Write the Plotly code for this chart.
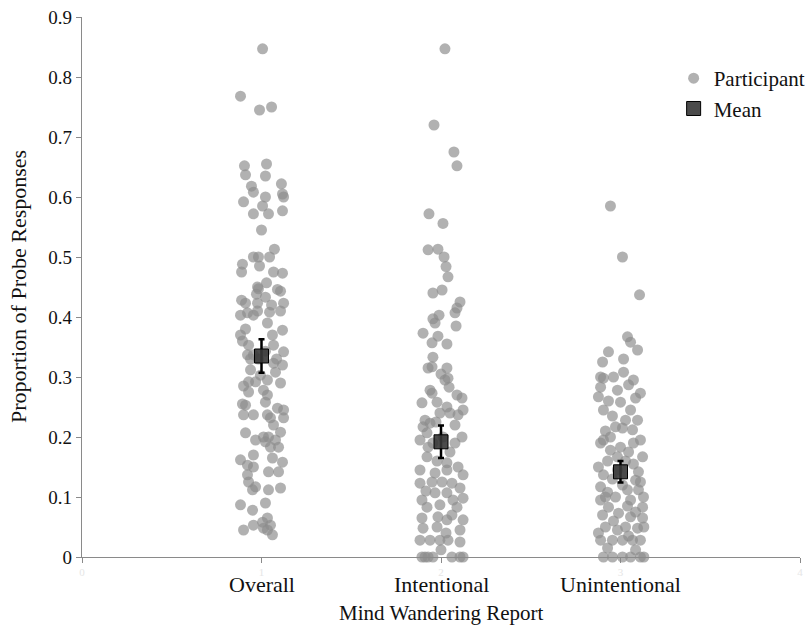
import plotly.graph_objects as go

categories = ["Overall", "Intentional", "Unintentional"]
cat_pos = [1, 2, 3]

# Participant proportions (y) and horizontal jitter offsets (x units)
overall_y = [0.847, 0.768, 0.745, 0.75, 0.652, 0.637, 0.655, 0.635, 0.618, 0.608, 0.622, 0.605, 0.6, 0.6,
             0.592, 0.585, 0.572, 0.572, 0.577, 0.545, 0.513, 0.5, 0.5, 0.5, 0.485, 0.488, 0.475, 0.475,
             0.473, 0.457, 0.45, 0.447, 0.446, 0.443, 0.438, 0.433, 0.428, 0.423, 0.423, 0.42, 0.423,
             0.407, 0.41, 0.408, 0.41, 0.403, 0.403, 0.39, 0.38, 0.378, 0.37, 0.37, 0.353, 0.36, 0.353,
             0.337, 0.337, 0.342, 0.32, 0.323, 0.312, 0.303, 0.308, 0.295, 0.292, 0.292, 0.29, 0.285,
             0.278, 0.275, 0.27, 0.253, 0.255, 0.258, 0.248, 0.245, 0.237, 0.237, 0.237, 0.232, 0.232,
             0.22, 0.208, 0.207, 0.195, 0.2, 0.2, 0.192, 0.183, 0.183, 0.195, 0.17, 0.165, 0.162, 0.153,
             0.15, 0.158, 0.142, 0.142, 0.137, 0.125, 0.112, 0.117, 0.112, 0.115, 0.087, 0.09, 0.078,
             0.065, 0.058, 0.053, 0.053, 0.045, 0.048, 0.045, 0.037, 0.343, 0.33, 0.33, 0.33]
overall_dx = [0.006, -0.117, -0.011, 0.056, -0.095, -0.089, 0.028, 0.022, -0.056, -0.045, 0.111, 0.117, 0.123, 0.022,
              -0.1, 0.006, -0.045, 0.039, 0.117, 0.0, 0.072, -0.045, -0.017, 0.045, -0.011, -0.106, -0.111, 0.067,
              0.117, 0.028, -0.022, -0.017, 0.089, 0.106, -0.028, 0.022, -0.111, -0.089, -0.022, 0.056, 0.123,
              -0.078, -0.022, 0.045, 0.106, -0.117, -0.045, 0.033, -0.089, 0.117, -0.117, 0.061, -0.072, -0.106, 0.067,
              -0.078, -0.045, 0.123, 0.117, 0.067, -0.061, -0.006, 0.078, 0.033, -0.072, -0.033, 0.106, -0.1,
              0.011, -0.072, 0.033, -0.089, -0.106, 0.022, 0.089, 0.123, -0.1, -0.045, 0.033, 0.05, 0.123,
              0.067, 0.106, -0.089, -0.033, 0.011, 0.039, 0.022, 0.05, 0.095, 0.078, -0.045, 0.061, -0.117, -0.078,
              -0.045, 0.117, 0.095, 0.039, -0.078, -0.072, -0.05, -0.033, 0.039, 0.106, -0.117, 0.022, -0.05,
              0.033, 0.006, -0.045, 0.05, -0.1, 0.011, 0.033, 0.061, 0.022, -0.017, 0.084, -0.061]

intentional_y = [0.847, 0.72, 0.675, 0.652, 0.572, 0.556, 0.512, 0.513, 0.5, 0.484, 0.467, 0.44, 0.445, 0.425,
                 0.415, 0.407, 0.403, 0.397, 0.39, 0.373, 0.368, 0.357, 0.333, 0.317, 0.315, 0.315, 0.298, 0.295,
                 0.278, 0.273, 0.27, 0.265, 0.257, 0.258, 0.25, 0.245, 0.24, 0.24, 0.237, 0.228, 0.223, 0.22,
                 0.217, 0.207, 0.183, 0.167, 0.157, 0.15, 0.145, 0.145, 0.137, 0.14, 0.123, 0.125, 0.125, 0.123,
                 0.115, 0.107, 0.107, 0.095, 0.095, 0.098, 0.083, 0.087, 0.083, 0.065, 0.067, 0.062, 0.062, 0.048,
                 0.05, 0.045, 0.028, 0.028, 0.028, 0.028, 0.025, 0.0, 0.0, 0.0, 0.0, 0.0, 0.0, 0.0,
                 0.385, 0.355, 0.305, 0.2, 0.19, 0.175, 0.16, 0.11, 0.07, 0.04, 0.012, 0.19, 0.195, 0.2, 0.225, 0.283]
intentional_dx = [0.022, -0.039, 0.072, 0.089, -0.067, 0.011, -0.072, -0.017, 0.017, 0.028, 0.039, -0.045, 0.006, 0.106,
                  0.089, 0.078, -0.011, -0.045, -0.033, -0.1, -0.017, -0.05, -0.045, -0.05, 0.033, -0.072, 0.039, 0.022,
                  -0.061, -0.05, 0.089, 0.117, -0.106, -0.022, 0.033, 0.123, 0.05, -0.006, 0.095, -0.089, -0.061, 0.078,
                  -0.1, -0.078, -0.072, -0.078, 0.033, 0.095, 0.033, -0.117, 0.123, -0.033, -0.117, -0.05, 0.006, 0.061,
                  0.106, -0.033, 0.033, -0.106, 0.067, 0.123, -0.078, -0.006, 0.089, -0.106, -0.017, 0.033, 0.123, -0.1,
                  -0.022, 0.106, -0.117, -0.061, -0.006, 0.039, 0.106, -0.106, -0.045, 0.061, 0.106, 0.123, -0.089, -0.072,
                  0.084, 0.033, 0.0, 0.011, -0.045, 0.05, -0.022, -0.084, 0.061, 0.028, 0.0, 0.078, -0.117, 0.117, -0.028, 0.045]

unintentional_y = [0.585, 0.5, 0.437, 0.367, 0.358, 0.342, 0.345, 0.325, 0.298, 0.3, 0.308, 0.295, 0.283, 0.287,
                   0.273, 0.278, 0.267, 0.258, 0.245, 0.245, 0.217, 0.215, 0.212, 0.195, 0.2, 0.195, 0.183, 0.178,
                   0.175, 0.167, 0.167, 0.15, 0.137, 0.142, 0.128, 0.117, 0.108, 0.112, 0.112, 0.1, 0.095, 0.095,
                   0.083, 0.083, 0.07, 0.073, 0.067, 0.065, 0.05, 0.048, 0.05, 0.028, 0.028, 0.028, 0.028, 0.028,
                   0.0, 0.0, 0.0, 0.0, 0.0, 0.0, 0.235, 0.228, 0.16, 0.155, 0.13, 0.12, 0.125, 0.1, 0.085, 0.06,
                   0.075, 0.04, 0.035, 0.045, 0.015, 0.012, 0.1, 0.19, 0.19, 0.145, 0.16, 0.05, 0.21, 0.228,
                   0.265, 0.26, 0.3, 0.33]
unintentional_dx = [-0.056, 0.011, 0.106, 0.039, 0.056, -0.067, 0.095, -0.1, -0.095, -0.039, 0.017, 0.072, -0.111, 0.045,
                    0.111, -0.017, -0.123, 0.0, 0.056, -0.095, -0.028, 0.011, 0.067, -0.095, -0.056, 0.111, 0.0, -0.056,
                    0.045, 0.123, -0.017, -0.123, -0.095, 0.1, 0.084, -0.111, -0.072, 0.039, 0.1, -0.028, 0.056, -0.111,
                    0.123, -0.067, -0.1, -0.011, 0.056, 0.123, -0.084, 0.095, 0.028, -0.111, -0.045, 0.011, 0.067, 0.111,
                    -0.095, -0.045, 0.011, 0.056, 0.111, 0.13, -0.045, 0.028, -0.072, 0.072, -0.045, 0.011, 0.111, -0.084,
                    0.039, -0.039, 0.084, -0.123, 0.045, -0.017, -0.072, 0.084, 0.128, -0.111, 0.072, -0.017, 0.028, 0.13,
                    -0.084, 0.095, 0.084, -0.067, -0.111, 0.017]

mean_values = [0.335, 0.192, 0.142]
mean_errors = [0.028, 0.027, 0.018]

x_ticks = [0, 1, 2, 3, 4]

FONT = "Liberation Serif, Times New Roman, serif"

px_x, px_y = [], []
for pos, ys, dxs in [(1, overall_y, overall_dx), (2, intentional_y, intentional_dx), (3, unintentional_y, unintentional_dx)]:
    for y, dx in zip(ys, dxs):
        px_x.append(pos + dx)
        px_y.append(y)

fig = go.Figure()
fig.add_trace(go.Scatter(
    x=px_x, y=px_y, mode="markers", name="Participant",
    marker=dict(symbol="circle", size=11, color="rgba(140,140,140,0.68)", line=dict(width=0)),
    cliponaxis=False,
))
fig.add_trace(go.Scatter(
    x=cat_pos, y=mean_values, mode="markers", name="Mean",
    marker=dict(symbol="square", size=14, color="rgba(55,55,55,0.9)", line=dict(width=1, color="black")),
    error_y=dict(type="data", array=mean_errors, color="black", thickness=2.5, width=3),
    cliponaxis=False,
))

for pos, name in zip(cat_pos, categories):
    fig.add_annotation(x=pos, y=0, xref="x", yref="paper", text=name, showarrow=False,
                       yanchor="middle", yshift=-27, font=dict(family=FONT, size=22, color="#111"))

fig.add_annotation(x=0.5, y=0, xref="paper", yref="paper", text="Mind Wandering Report", showarrow=False,
                   yanchor="middle", yshift=-56, font=dict(family=FONT, size=21, color="#111"))
fig.add_annotation(x=0, y=0.5, xref="paper", yref="paper", text="Proportion of Probe Responses", showarrow=False,
                   textangle=-90, xanchor="center", xshift=-64, font=dict(family=FONT, size=22, color="#111"))

fig.update_layout(
    width=811, height=627,
    margin=dict(l=82, r=11, t=17, b=70, autoexpand=False),
    paper_bgcolor="white", plot_bgcolor="white",
    font=dict(family=FONT, size=19, color="#111"),
    showlegend=True,
    legend=dict(x=0.824, y=0.924, xanchor="left", yanchor="top", bgcolor="rgba(0,0,0,0)",
                font=dict(family=FONT, size=21, color="#111"), tracegroupgap=0),
)
fig.update_xaxes(range=[0, 4], tickvals=x_ticks, ticktext=[str(t) for t in x_ticks], automargin=False,
                 tickfont=dict(size=11, color="#e6e6e6"), showgrid=False, zeroline=False,
                 showline=True, linecolor="#8a8a8a", linewidth=1.2, ticks="outside", ticklen=5,
                 tickcolor="#8a8a8a")
fig.update_yaxes(range=[0, 0.9], dtick=0.1, tick0=0, showgrid=False, zeroline=False, automargin=False,
                 showline=True, linecolor="#8a8a8a", linewidth=1.2, ticks="outside", ticklen=5,
                 tickcolor="#8a8a8a", tickfont=dict(family=FONT, size=19, color="#111"))

fig.write_html("out.html", config={"displayModeBar": False},
               post_script="document.body.style.margin='0';document.body.style.overflow='hidden';")
